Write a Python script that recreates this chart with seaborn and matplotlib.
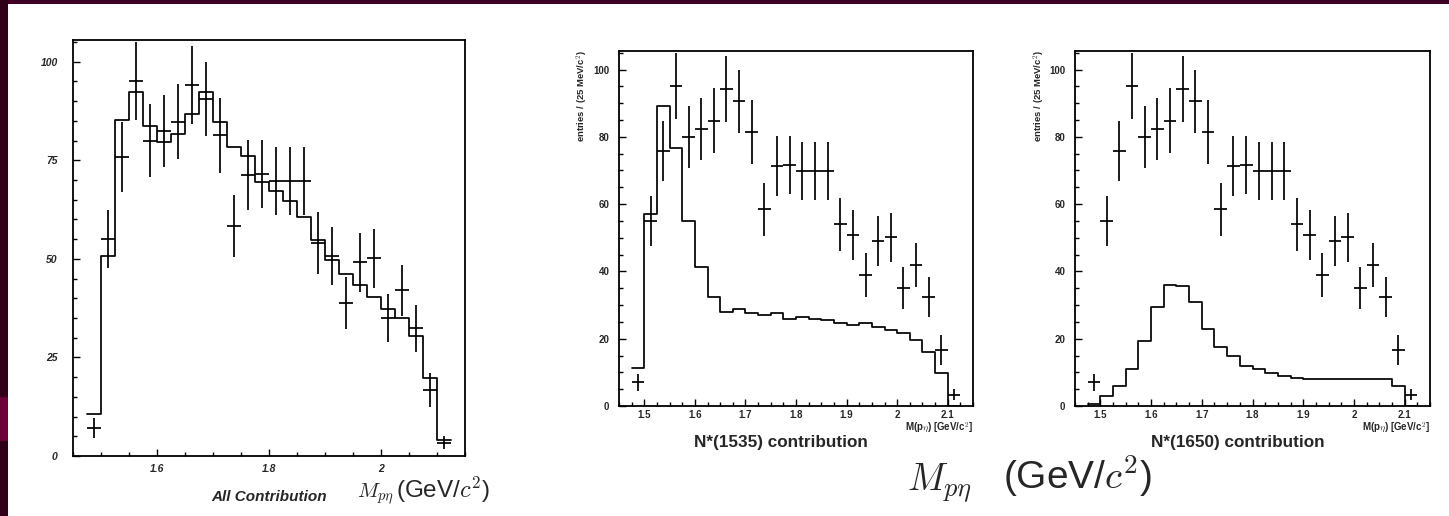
import numpy as np
import pandas as pd
import matplotlib
matplotlib.use("Agg")
import matplotlib.pyplot as plt
import seaborn as sns
from matplotlib.patches import Rectangle
from matplotlib.ticker import FixedLocator, FixedFormatter, MultipleLocator

# ---------------- data ----------------
bin_edges = [1.475, 1.5, 1.525, 1.55, 1.575, 1.6, 1.625, 1.65, 1.675, 1.7, 1.725,
             1.75, 1.775, 1.8, 1.825, 1.85, 1.875, 1.9, 1.925, 1.95, 1.975, 2.0,
             2.025, 2.05, 2.075, 2.1, 2.125]
mass_centers = [1.4875, 1.5125, 1.5375, 1.5625, 1.5875, 1.6125, 1.6375, 1.6625,
                1.6875, 1.7125, 1.7375, 1.7625, 1.7875, 1.8125, 1.8375, 1.8625,
                1.8875, 1.9125, 1.9375, 1.9625, 1.9875, 2.0125, 2.0375, 2.0625,
                2.0875, 2.1125]
data_counts = [7.1, 55.0, 75.8, 95.1, 80.0, 82.4, 84.8, 94.1, 90.6, 81.3, 58.4,
               71.3, 71.5, 69.8, 69.8, 69.8, 54.0, 50.8, 38.9, 49.1, 50.1, 35.0,
               42.0, 32.4, 16.7, 3.4]
data_errors = [2.5, 7.4, 8.9, 9.8, 9.2, 9.2, 9.6, 9.8, 9.4, 9.5, 7.9, 8.9, 8.6,
               8.6, 8.6, 8.6, 7.8, 7.4, 6.6, 7.5, 7.4, 6.2, 6.5, 5.9, 4.4, 1.7]
fit_all = [10.6, 50.7, 85.3, 92.2, 83.7, 79.7, 81.7, 86.7, 92.2, 84.8, 78.3,
           76.2, 69.6, 67.3, 64.7, 60.7, 54.8, 49.7, 46.2, 43.4, 40.4, 37.4,
           34.9, 30.4, 19.9, 4.1]
fit_n1535 = [11.4, 57.0, 89.2, 76.7, 55.0, 41.4, 32.5, 28.0, 28.7, 27.5, 27.0,
             27.5, 25.8, 26.5, 25.8, 25.7, 24.6, 24.1, 24.6, 23.4, 22.6, 21.6,
             19.6, 16.1, 9.7, 0.0]
fit_n1650 = [0.6, 3.1, 6.0, 10.9, 19.3, 29.3, 35.9, 35.6, 31.0, 22.9, 17.4,
             14.9, 12.0, 10.9, 9.7, 9.0, 8.4, 7.9, 7.9, 7.9, 7.9, 7.9, 7.9, 7.9,
             6.0, 0.0]

left_xticks = [1.6, 1.8, 2.0]
left_xlabels = ["1.6", "1.8", "2"]
left_yticks = [0, 25, 50, 75, 100]
left_ylabels = ["0", "25", "50", "75", "100"]
right_xticks = [1.5, 1.6, 1.7, 1.8, 1.9, 2.0, 2.1]
right_xlabels = ["1.5", "1.6", "1.7", "1.8", "1.9", "2", "2.1"]
right_yticks = [0, 20, 40, 60, 80, 100]
right_ylabels = ["0", "20", "40", "60", "80", "100"]

# ---------------- style ----------------
sns.set_theme(style="ticks")
plt.rcParams['font.family'] = ['Liberation Sans', 'DejaVu Sans']
plt.rcParams['mathtext.fontset'] = 'cm'

W, H = 1449, 516
fig = plt.figure(figsize=(W / 100, H / 100), dpi=100)
fig.patch.set_facecolor('white')


def fx(px):
    return px / W


def fy(py):
    return 1 - py / H


def axes_px(l, t, r, b):
    return fig.add_axes([fx(l), fy(b), (r - l) / W, (b - t) / H])


ax1 = axes_px(73, 40, 465, 456)
ax2 = axes_px(619, 51, 973, 406)
ax3 = axes_px(1075, 51, 1430, 406)

LW = 1.25


def draw_panel(ax, fit):
    df = pd.DataFrame({'mass': mass_centers, 'fit': fit})
    sns.histplot(data=df, x='mass', weights='fit', bins=bin_edges,
                 element='step', fill=False, color='black', linewidth=LW, ax=ax)
    ax.errorbar(mass_centers, data_counts, xerr=0.0125, yerr=data_errors,
                fmt='none', ecolor='black', elinewidth=LW, capsize=0)
    ax.set_xlim(1.45, 2.15)
    ax.set_ylim(0, 105.5)
    ax.set_xlabel('')
    ax.set_ylabel('')
    ax.set_facecolor('white')
    for s in ax.spines.values():
        s.set_visible(True)
        s.set_linewidth(1.3)
        s.set_color('black')
    ax.tick_params(which='both', direction='in', top=False, right=False,
                   color='black', width=1.0)
    ax.tick_params(which='major', length=5)
    ax.tick_params(which='minor', length=3)


for ax, fit in [(ax1, fit_all), (ax2, fit_n1535), (ax3, fit_n1650)]:
    draw_panel(ax, fit)

# left panel ticks
ax1.xaxis.set_major_locator(FixedLocator(left_xticks))
ax1.xaxis.set_major_formatter(FixedFormatter(left_xlabels))
ax1.xaxis.set_minor_locator(MultipleLocator(0.05))
ax1.yaxis.set_major_locator(FixedLocator(left_yticks))
ax1.yaxis.set_major_formatter(FixedFormatter(left_ylabels))
ax1.yaxis.set_minor_locator(MultipleLocator(5))
ax1.tick_params(axis='y', pad=11)
ax1.tick_params(axis='x', pad=6)
for lab in ax1.get_xticklabels() + ax1.get_yticklabels():
    lab.set_fontsize(7.5)
    lab.set_fontstyle('italic')
    lab.set_fontweight('bold')

for ax in (ax2, ax3):
    ax.xaxis.set_major_locator(FixedLocator(right_xticks))
    ax.xaxis.set_major_formatter(FixedFormatter(right_xlabels))
    ax.xaxis.set_minor_locator(MultipleLocator(0.025))
    ax.yaxis.set_major_locator(FixedLocator(right_yticks))
    ax.yaxis.set_major_formatter(FixedFormatter(right_ylabels))
    ax.yaxis.set_minor_locator(MultipleLocator(5))
    ax.tick_params(axis='y', pad=7)
    ax.tick_params(axis='x', pad=3)
    for lab in ax.get_xticklabels() + ax.get_yticklabels():
        lab.set_fontsize(7)
        lab.set_fontweight('bold')

# ---------------- texts ----------------
fig.text(fx(269), fy(497), "All Contribution", ha='center', va='center',
         fontsize=11, fontweight='bold', fontstyle='italic')
# big axis label under the left panel
fig.text(fx(357), fy(498), r"$M_{p\eta}$", ha='left', va='baseline', fontsize=15)
fig.text(fx(396), fy(498), r"(GeV/$c^2$)", ha='left', va='baseline', fontsize=17.5)
# big axis label under the right panels
fig.text(fx(907), fy(490), r"$M_{p\eta}$", ha='left', va='baseline', fontsize=27)
fig.text(fx(1003), fy(489), r"(GeV/$c^2$)", ha='left', va='baseline', fontsize=28)

fig.text(fx(781), fy(442), "N*(1535) contribution", ha='center', va='center',
         fontsize=12.3, fontweight='bold')
fig.text(fx(1238), fy(442), "N*(1650) contribution", ha='center', va='center',
         fontsize=12.3, fontweight='bold')
for right_px in (973, 1430):
    fig.text(fx(right_px), fy(428), r"M(p$\eta$) [GeV/c$^2$]", ha='right',
             va='center', fontsize=7, fontweight='bold')
for xc in (582, 1039):
    fig.text(fx(xc), fy(50), r"entries / (25 MeV/c$^2$)", ha='center',
             va='top', rotation=90, fontsize=6.8, fontweight='bold')

# ---------------- maroon frame ----------------
fig.patches.append(Rectangle((0, fy(4)), 1, 4 / H, transform=fig.transFigure,
                             facecolor='#3d0022', edgecolor='none', zorder=-1))
fig.patches.append(Rectangle((0, 0), fx(8), 1, transform=fig.transFigure,
                             facecolor='#300018', edgecolor='none', zorder=-1))
fig.patches.append(Rectangle((0, fy(441)), fx(8), 44 / H, transform=fig.transFigure,
                             facecolor='#6b0036', edgecolor='none', zorder=-1))

fig.savefig('out.png', dpi=100, facecolor='white')
